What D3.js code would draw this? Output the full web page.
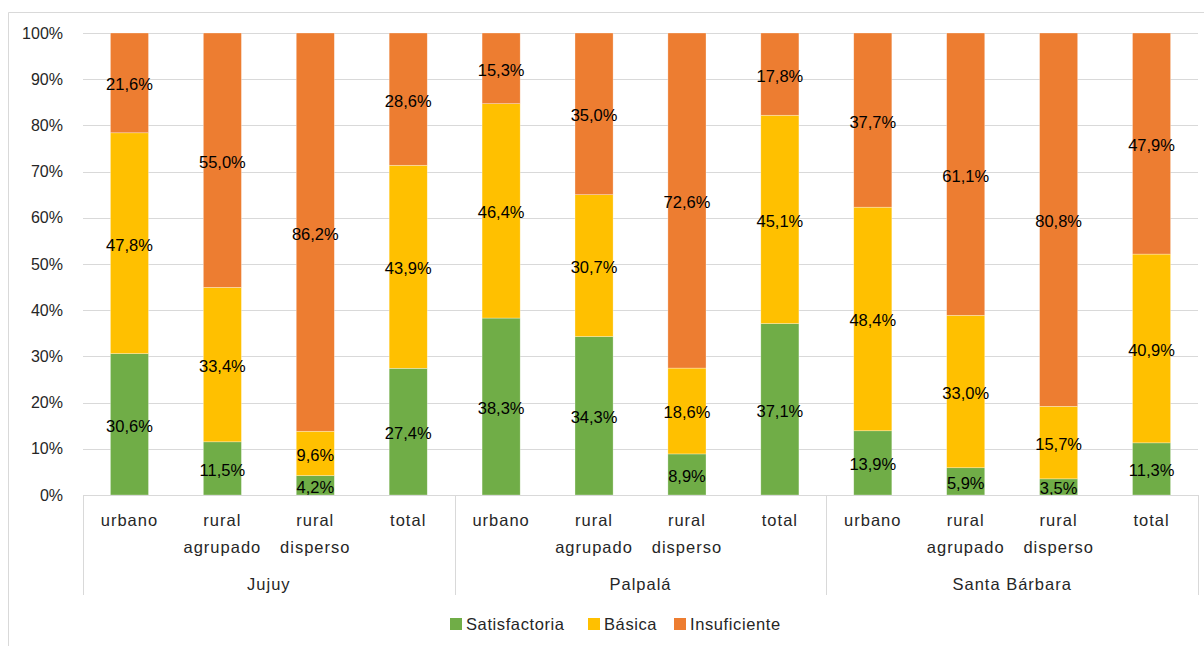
<!DOCTYPE html>
<html>
<head>
<meta charset="utf-8">
<script src="https://cdn.jsdelivr.net/npm/d3@7"></script>
<style>
  html, body { margin: 0; padding: 0; background: #fff; }
  svg { display: block; font-family: "Liberation Sans", Arial, sans-serif; }
</style>
</head>
<body>
<svg id="chart" width="1204" height="646"></svg>
<script>
// ---- Data ----
const groups = ["Jujuy", "Palpalá", "Santa Bárbara"];
const subcategories = [["urbano"], ["rural", "agrupado"], ["rural", "disperso"], ["total"]];
const seriesNames = ["Satisfactoria", "Básica", "Insuficiente"];
const satisfactoria = [30.6, 11.5, 4.2, 27.4, 38.3, 34.3, 8.9, 37.1, 13.9, 5.9, 3.5, 11.3];
const basica        = [47.8, 33.4, 9.6, 43.9, 46.4, 30.7, 18.6, 45.1, 48.4, 33.0, 15.7, 40.9];
const insuficiente  = [21.6, 55.0, 86.2, 28.6, 15.3, 35.0, 72.6, 17.8, 37.7, 61.1, 80.8, 47.9];
const yTicks = [0, 10, 20, 30, 40, 50, 60, 70, 80, 90, 100];
const colors = ["#70AD47", "#FFC000", "#ED7D31"];

(function () {
// ---- Build rows ----
const rows = [];
groups.forEach((g, gi) => {
  subcategories.forEach((s, si) => {
    const i = gi * subcategories.length + si;
    rows.push({ id: i, group: g, sub: s,
      Satisfactoria: satisfactoria[i], "Básica": basica[i], Insuficiente: insuficiente[i] });
  });
});

const svg = d3.select("#chart");
const pLeft = 83, pRight = 1198, pTop = 33, pBottom = 495;

// outer frame (partially visible)
svg.append("path").attr("d", "M8.5,660 L8.5,12.5 L1220,12.5")
  .attr("fill", "none").attr("stroke", "#d9d9d9").attr("stroke-width", 1);

const x = d3.scaleBand().domain(rows.map(d => d.id)).range([pLeft, pRight]).paddingInner(0.59).paddingOuter(0.295);
const xBand = d3.scaleBand().domain(rows.map(d => d.id)).range([pLeft, pRight]);
const y = d3.scaleLinear().domain([0, 100]).range([pBottom, pTop]);

// gridlines
svg.append("g").selectAll("line").data(yTicks.filter(t => t > 0)).join("line")
  .attr("x1", pLeft).attr("x2", pRight)
  .attr("y1", d => Math.round(y(d)) + 0.5).attr("y2", d => Math.round(y(d)) + 0.5)
  .attr("stroke", "#d9d9d9").attr("stroke-width", 1);

// y tick labels
svg.append("g").selectAll("text").data(yTicks).join("text")
  .attr("x", 63).attr("y", d => y(d)).attr("dy", "0.35em")
  .attr("text-anchor", "end").attr("font-size", 16).attr("fill", "#262626")
  .text(d => d + "%");

// stack (100% stacked: normalize)
const stack = d3.stack().keys(seriesNames).offset(d3.stackOffsetExpand);
const stacked = stack(rows);

const layers = svg.append("g").selectAll("g").data(stacked).join("g")
  .attr("fill", (d, i) => colors[i]);
layers.selectAll("rect").data(d => d).join("rect")
  .attr("x", d => x(d.data.id))
  .attr("width", x.bandwidth())
  .attr("y", d => y(d[1] * 100))
  .attr("height", d => y(d[0] * 100) - y(d[1] * 100))
  .attr("stroke", "#ffffff").attr("stroke-width", 0.6).attr("stroke-opacity", 0.5);

// data labels
const labelG = svg.append("g");
stacked.forEach((layer) => {
  labelG.selectAll(null).data(layer).join("text")
    .attr("x", d => x(d.data.id) + x.bandwidth() / 2)
    .attr("y", d => y((d[0] + d[1]) / 2 * 100))
    .attr("dy", "0.45em")
    .attr("text-anchor", "middle").attr("font-size", 16.5).attr("fill", "#000")
    .text(d => d.data[layer.key].toFixed(1).replace(".", ",") + "%");
});

// bottom axis line
svg.append("line").attr("x1", pLeft).attr("x2", pRight)
  .attr("y1", pBottom + 0.5).attr("y2", pBottom + 0.5)
  .attr("stroke", "#d9d9d9").attr("stroke-width", 1);

// group separators
const nSub = subcategories.length;
const sepX = [0, 1, 2, 3].map(k => k === 3 ? pRight : xBand(k * nSub));
svg.append("g").selectAll("line").data(sepX).join("line")
  .attr("x1", d => Math.round(d) + 0.5).attr("x2", d => Math.round(d) + 0.5)
  .attr("y1", pBottom).attr("y2", 595)
  .attr("stroke", "#d9d9d9").attr("stroke-width", 1);

// category labels
const catG = svg.append("g");
rows.forEach(r => {
  const cx = xBand(r.id) + xBand.bandwidth() / 2;
  const t = catG.append("text")
    .attr("x", cx).attr("y", 520)
    .attr("text-anchor", "middle").attr("font-size", 16.5)
    .attr("letter-spacing", 1).attr("fill", "#262626");
  r.sub.forEach((line, li) => {
    t.append("tspan").attr("x", cx)
      .attr("dy", li === 0 ? "0.35em" : 27).text(line);
  });
});

// group labels
svg.append("g").selectAll("text").data(groups).join("text")
  .attr("x", (d, i) => (sepX[i] + sepX[i + 1]) / 2)
  .attr("y", 584).attr("dy", "0.35em")
  .attr("text-anchor", "middle").attr("font-size", 16.5)
  .attr("letter-spacing", 1).attr("fill", "#262626")
  .text(d => d);

// legend
const legendX = [450, 588, 674];
const lg = svg.append("g").selectAll("g").data(seriesNames).join("g")
  .attr("transform", (d, i) => `translate(${legendX[i]},618)`);
lg.append("rect").attr("width", 12).attr("height", 12).attr("fill", (d, i) => colors[i]);
lg.append("text").attr("x", 16).attr("y", 6).attr("dy", "0.35em")
  .attr("font-size", 16.5).attr("letter-spacing", 0.6)
  .attr("fill", "#262626").text(d => d);
})();
</script>
</body>
</html>
